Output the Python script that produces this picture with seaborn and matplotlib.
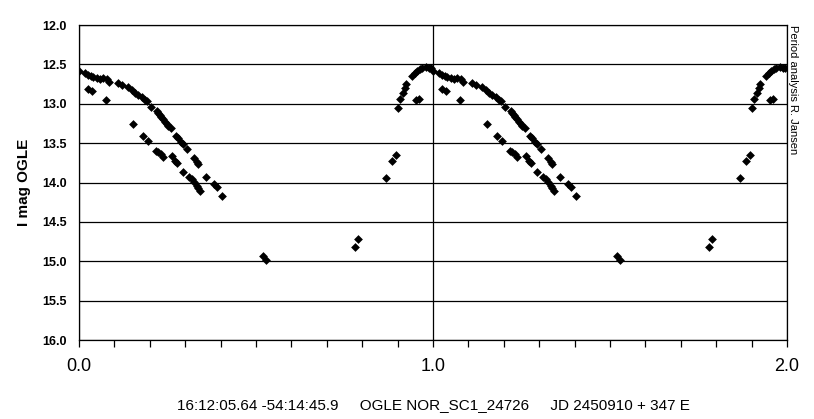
import matplotlib
matplotlib.use("Agg")
import matplotlib.pyplot as plt
import seaborn as sns
import numpy as np
import pandas as pd
from matplotlib.ticker import MultipleLocator, FixedLocator, FormatStrFormatter

# phase (0..1) and I magnitude; plotted twice (phase, phase + 1)
phase = [0.001, 0.017, 0.026, 0.033, 0.040, 0.050, 0.059, 0.069, 0.078, 0.086,
         0.111, 0.121, 0.139, 0.149, 0.158, 0.167, 0.177, 0.186, 0.191, 0.202,
         0.219, 0.224, 0.229, 0.233, 0.238, 0.243, 0.248, 0.252, 0.259, 0.274,
         0.280, 0.288, 0.293, 0.304, 0.325, 0.332, 0.337, 0.360, 0.382, 0.390,
         0.403,
         0.026, 0.036, 0.076, 0.152, 0.181, 0.196, 0.217, 0.224, 0.231, 0.236,
         0.262, 0.271, 0.277, 0.293, 0.311, 0.318, 0.325, 0.332, 0.337, 0.343,
         0.520, 0.528, 0.779, 0.789, 0.868, 0.885, 0.895, 0.900, 0.908, 0.915,
         0.920, 0.925, 0.941, 0.948, 0.955, 0.962, 0.970, 0.979, 0.989, 0.995,
         0.953, 0.960]
imag = [12.581, 12.614, 12.636, 12.648, 12.665, 12.678, 12.687, 12.678, 12.690, 12.721,
        12.741, 12.763, 12.792, 12.826, 12.860, 12.890, 12.919, 12.953, 12.962, 13.046,
        13.089, 13.114, 13.143, 13.165, 13.194, 13.228, 13.258, 13.283, 13.312, 13.410,
        13.439, 13.482, 13.511, 13.575, 13.693, 13.736, 13.769, 13.934, 14.019, 14.061,
        14.171,
        12.817, 12.835, 12.953, 13.258, 13.406, 13.470, 13.596, 13.617, 13.642, 13.680,
        13.664, 13.723, 13.756, 13.863, 13.926, 13.959, 13.997, 14.041, 14.074, 14.108,
        14.933, 14.984, 14.815, 14.721, 13.939, 13.723, 13.651, 13.051, 12.940, 12.860,
        12.797, 12.754, 12.645, 12.607, 12.581, 12.560, 12.543, 12.530, 12.543, 12.551,
        12.953, 12.937]

y_ticks = [12.0, 12.5, 13.0, 13.5, 14.0, 14.5, 15.0, 15.5, 16.0]
x_ticks = [0.0, 1.0, 2.0]
y_label = "I mag OGLE"
caption = "16:12:05.64 -54:14:45.9     OGLE NOR_SC1_24726     JD 2450910 + 347 E"
credit = "Period analysis R. Jansen"

plt.rcParams['font.family'] = ['Liberation Sans', 'DejaVu Sans']

df = pd.DataFrame({
    "phase": np.concatenate([np.array(phase), np.array(phase) + 1.0]),
    "imag": np.concatenate([imag, imag]),
})

fig = plt.figure(figsize=(8.14, 4.19), dpi=100)
ax = fig.add_axes([79/814, 1 - 340/419, (787-79)/814, (340-25)/419])

sns.scatterplot(data=df, x="phase", y="imag", ax=ax, marker="D", s=20,
                color="black", linewidth=0, zorder=3)

ax.set_xlim(0, 2)
ax.set_ylim(16.0, 12.0)
ax.yaxis.set_major_locator(FixedLocator(y_ticks))
ax.yaxis.set_major_formatter(FormatStrFormatter('%.1f'))
ax.xaxis.set_major_locator(FixedLocator(x_ticks))
ax.xaxis.set_major_formatter(FormatStrFormatter('%.1f'))
ax.xaxis.set_minor_locator(MultipleLocator(0.1))

ax.grid(axis='y', color='black', linewidth=0.9)
ax.grid(axis='x', which='major', color='black', linewidth=0.9)
ax.set_axisbelow(True)
for sp in ax.spines.values():
    sp.set_color('black')
    sp.set_linewidth(0.9)

ax.tick_params(axis='y', length=0, pad=9, labelsize=9)
for lab in ax.get_yticklabels():
    lab.set_fontweight('bold')
ax.tick_params(axis='x', which='both', direction='out', length=5, width=0.9,
               labelsize=13, pad=8)

ax.set_xlabel("")
ax.set_ylabel(y_label, fontsize=11, fontweight='bold', labelpad=8)

fig.text(433/814, 1 - 405/419, caption, ha='center', va='center', fontsize=11)
fig.text(793/814, 1 - 25/419, credit, ha='center', va='top', rotation=270, fontsize=8)

fig.savefig("out.png", dpi=100)
